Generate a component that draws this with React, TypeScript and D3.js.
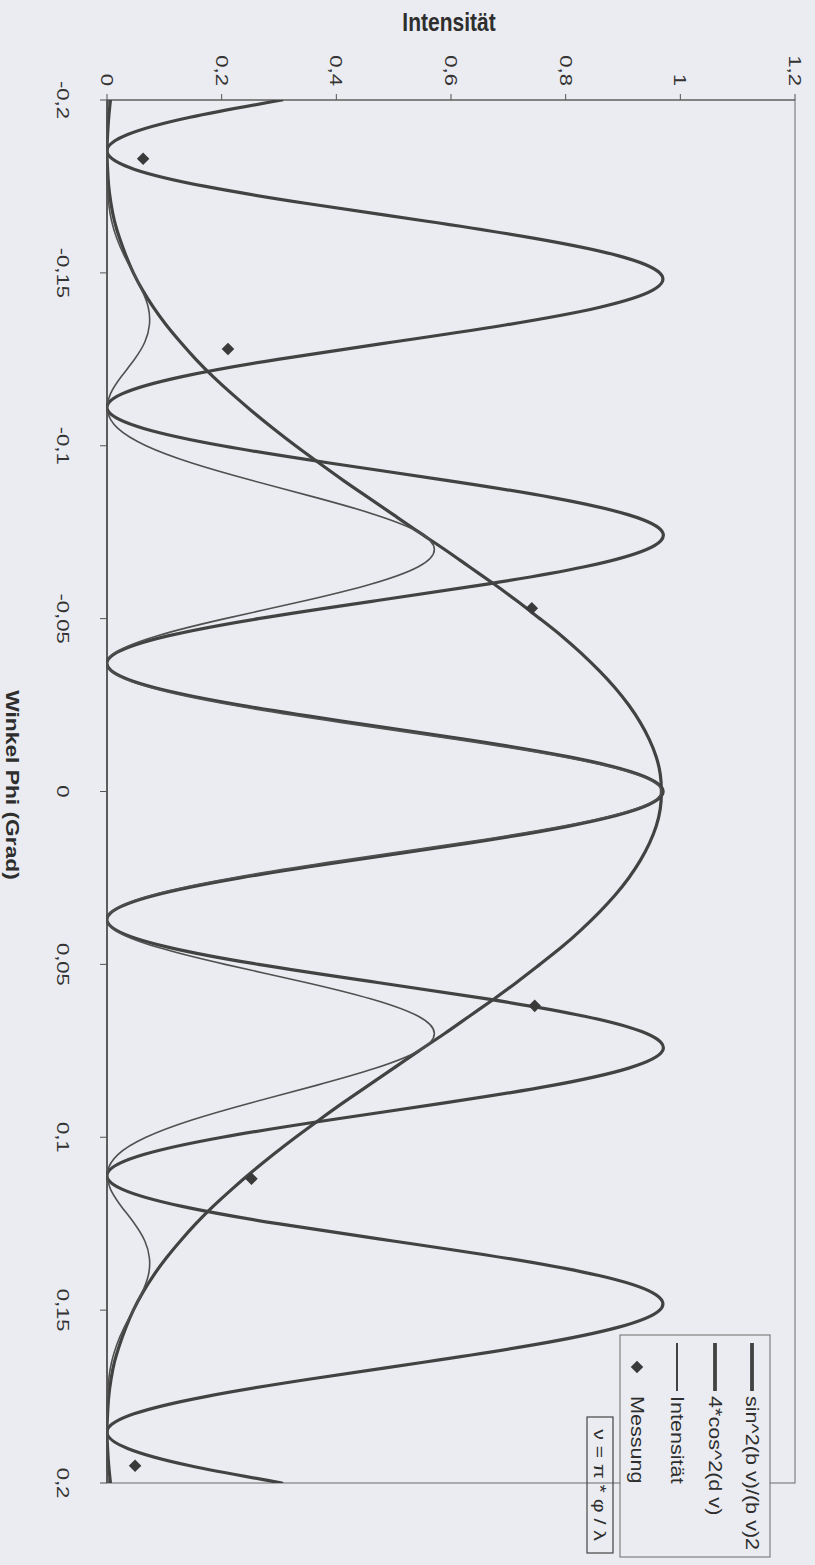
import React, { useEffect } from 'react';
import * as d3 from 'd3';

// Winkel Phi (Grad), sampled every 0.005
const phi = [
  -0.2, -0.195, -0.19, -0.185, -0.18, -0.175, -0.17, -0.165, -0.16, -0.155,
  -0.15, -0.145, -0.14, -0.135, -0.13, -0.125, -0.12, -0.115, -0.11, -0.105,
  -0.1, -0.095, -0.09, -0.085, -0.08, -0.075, -0.07, -0.065, -0.06, -0.055,
  -0.05, -0.045, -0.04, -0.035, -0.03, -0.025, -0.02, -0.015, -0.01, -0.005,
  0,
  0.005, 0.01, 0.015, 0.02, 0.025, 0.03, 0.035, 0.04, 0.045, 0.05,
  0.055, 0.06, 0.065, 0.07, 0.075, 0.08, 0.085, 0.09, 0.095, 0.1,
  0.105, 0.11, 0.115, 0.12, 0.125, 0.13, 0.135, 0.14, 0.145, 0.15,
  0.155, 0.16, 0.165, 0.17, 0.175, 0.18, 0.185, 0.19, 0.195, 0.2,
];

// sin^2(b v)/(b v)^2
const envelope = [
  0.006, 0.003, 0.001, 0.0, 0.001, 0.003, 0.007, 0.013, 0.022, 0.033,
  0.046, 0.062, 0.081, 0.103, 0.128, 0.155, 0.185, 0.218, 0.253, 0.29,
  0.329, 0.37, 0.412, 0.456, 0.5, 0.544, 0.589, 0.632, 0.675, 0.716,
  0.755, 0.793, 0.827, 0.858, 0.886, 0.91, 0.93, 0.946, 0.958, 0.965,
  0.967,
  0.965, 0.958, 0.946, 0.93, 0.91, 0.886, 0.858, 0.827, 0.793, 0.755,
  0.716, 0.675, 0.632, 0.589, 0.544, 0.5, 0.456, 0.412, 0.37, 0.329,
  0.29, 0.253, 0.218, 0.185, 0.155, 0.128, 0.103, 0.081, 0.062, 0.046,
  0.033, 0.022, 0.013, 0.007, 0.003, 0.001, 0.0, 0.001, 0.003, 0.006,
];

// 4*cos^2(d v)
const cosine = [
  0.305, 0.145, 0.036, 0.0, 0.047, 0.172, 0.352, 0.555, 0.746, 0.891,
  0.964, 0.952, 0.858, 0.697, 0.499, 0.298, 0.131, 0.026, 0.002, 0.064,
  0.201, 0.388, 0.592, 0.777, 0.91, 0.969, 0.941, 0.833, 0.663, 0.462,
  0.264, 0.106, 0.015, 0.007, 0.084, 0.232, 0.424, 0.628, 0.806, 0.927,
  0.97,
  0.927, 0.806, 0.628, 0.424, 0.232, 0.084, 0.007, 0.015, 0.106, 0.264,
  0.462, 0.663, 0.833, 0.941, 0.969, 0.91, 0.777, 0.592, 0.388, 0.201,
  0.064, 0.002, 0.026, 0.131, 0.298, 0.499, 0.697, 0.858, 0.952, 0.964,
  0.891, 0.746, 0.555, 0.352, 0.172, 0.047, 0.0, 0.036, 0.145, 0.305,
];

// Intensität
const intensity = [
  0.002, 0.0, 0.0, 0.0, 0.0, 0.001, 0.003, 0.008, 0.017, 0.03,
  0.046, 0.061, 0.072, 0.074, 0.066, 0.048, 0.025, 0.006, 0.001, 0.019,
  0.068, 0.148, 0.252, 0.365, 0.469, 0.544, 0.571, 0.543, 0.461, 0.341,
  0.206, 0.087, 0.013, 0.006, 0.077, 0.218, 0.407, 0.612, 0.796, 0.922,
  0.967,
  0.922, 0.796, 0.612, 0.407, 0.218, 0.077, 0.006, 0.013, 0.087, 0.206,
  0.341, 0.461, 0.543, 0.571, 0.544, 0.469, 0.365, 0.252, 0.148, 0.068,
  0.019, 0.001, 0.006, 0.025, 0.048, 0.066, 0.074, 0.072, 0.061, 0.046,
  0.03, 0.017, 0.008, 0.003, 0.001, 0.0, 0.0, 0.0, 0.0, 0.002,
];

// Messung
const measPhi = [-0.183, -0.128, -0.053, 0.062, 0.112, 0.195];
const measVal = [0.063, 0.211, 0.741, 0.746, 0.252, 0.049];

const phiTicks = [-0.2, -0.15, -0.1, -0.05, 0, 0.05, 0.1, 0.15, 0.2];
const phiTickLabels = ['-0,2', '-0,15', '-0,1', '-0,05', '0', '0,05', '0,1', '0,15', '0,2'];
const intTicks = [0, 0.2, 0.4, 0.6, 0.8, 1, 1.2];
const intTickLabels = ['0', '0,2', '0,4', '0,6', '0,8', '1', '1,2'];
const legendLabels = ['sin^2(b v)/(b v)2', '4*cos^2(d v)', 'Intensität', 'Messung'];

const W = 815;
const H = 1565;
const BG = '#eaecf1';
const INK = '#424242';
const FONT = '"Liberation Sans", Arial, sans-serif';

export default function App() {
  useEffect(() => {
    document.body.style.margin = '0';
    document.body.style.background = BG;
  }, []);

  const xI = d3.scaleLinear().domain([0, 1.2]).range([107, 795]);
  const yP = d3.scaleLinear().domain([-0.2, 0.2]).range([100, 1483]);

  const line = d3
    .line<number>()
    .x((v) => xI(v))
    .y((_, i) => yP(phi[i]))
    .curve(d3.curveNatural);

  const [x0, x1] = xI.range();
  const [y0, y1] = yP.range();

  const diamond = d3.symbol().type(d3.symbolDiamond2).size(100)();

  const legendX = [752, 715, 677, 637];

  return (
    <svg
      width={W}
      height={H}
      style={{ position: 'absolute', left: 0, top: 0, display: 'block' }}
      fontFamily={FONT}
    >
      <defs>
        <clipPath id="plotClip">
          <rect x={x0 - 1} y={y0} width={x1 - x0 + 1} height={y1 - y0} />
        </clipPath>
      </defs>
      <rect x={0} y={0} width={W} height={H} fill={BG} />

      {/* plot frame */}
      <rect x={x0} y={y0} width={x1 - x0} height={y1 - y0} fill="none" stroke="#6a6a6a" strokeWidth={1} />
      <line x1={x0} x2={x0} y1={y0} y2={y1} stroke={INK} strokeWidth={1.5} />
      <line x1={x0} x2={x1} y1={y0} y2={y0} stroke="#5a5a5a" strokeWidth={1.2} />

      {/* intensity axis ticks (top) */}
      {intTicks.map((t, i) => (
        <g key={'it' + i}>
          <line x1={xI(t)} x2={xI(t)} y1={y0} y2={y0 - 6} stroke="#555" strokeWidth={1} />
          <text
            transform={`translate(${xI(t)},${y0 - 14}) rotate(90) scale(1.3,1)`}
            textAnchor="end"
            dy="0.35em"
            fontSize={17}
            fill="#333"
          >
            {intTickLabels[i]}
          </text>
        </g>
      ))}

      {/* phi axis ticks (left) */}
      {phiTicks.map((t, i) => (
        <g key={'pt' + i}>
          <line x1={x0} x2={x0 - 7} y1={yP(t)} y2={yP(t)} stroke="#555" strokeWidth={1} />
          <text
            transform={`translate(57,${yP(t)}) rotate(90) scale(1.3,1)`}
            textAnchor="middle"
            fontSize={17}
            fill="#333"
          >
            {phiTickLabels[i]}
          </text>
        </g>
      ))}

      {/* series */}
      <g clipPath="url(#plotClip)" fill="none" strokeLinejoin="round" strokeLinecap="round">
        <path d={line(envelope) || ''} stroke={INK} strokeWidth={3.2} />
        <path d={line(cosine) || ''} stroke={INK} strokeWidth={3.2} />
        <path d={line(intensity) || ''} stroke="#505050" strokeWidth={1.6} />
      </g>
      {measPhi.map((p, i) => (
        <path key={'m' + i} d={diamond || ''} transform={`translate(${xI(measVal[i])},${yP(p)})`} fill="#3a3a3a" />
      ))}

      {/* axis titles */}
      <text
        transform="translate(449,31) scale(1,1.25)"
        textAnchor="middle"
        fontSize={21}
        fontWeight="bold"
        fill="#2e2e2e"
      >
        Intensität
      </text>
      <text
        transform="translate(6,785) rotate(90) scale(1.2,1)"
        textAnchor="middle"
        fontSize={19}
        fontWeight="bold"
        fill="#2e2e2e"
      >
        Winkel Phi (Grad)
      </text>

      {/* legend */}
      <rect x={620} y={1335} width={150} height={222} fill={BG} stroke="#6a6a6a" strokeWidth={1} />
      {legendLabels.map((lab, i) => (
        <g key={'lg' + i}>
          {i < 3 ? (
            <line
              x1={legendX[i]}
              x2={legendX[i]}
              y1={1343}
              y2={1391}
              stroke={INK}
              strokeWidth={i < 2 ? 3.8 : 2}
            />
          ) : (
            <path d={diamond || ''} transform={`translate(${legendX[i]},1367)`} fill="#3a3a3a" />
          )}
          <text
            transform={`translate(${legendX[i]},1396) rotate(90) scale(1.2,1)`}
            dy="0.35em"
            fontSize={18}
            fill="#2e2e2e"
          >
            {lab}
          </text>
        </g>
      ))}

      {/* formula box */}
      <rect x={587} y={1417} width={26} height={136} fill="none" stroke="#444" strokeWidth={1.2} />
      <text
        transform="translate(600,1485) rotate(90) scale(1.25,1)"
        textAnchor="middle"
        dy="0.35em"
        fontSize={17}
        fill="#2e2e2e"
      >
        ν = π * φ / λ
      </text>
    </svg>
  );
}
